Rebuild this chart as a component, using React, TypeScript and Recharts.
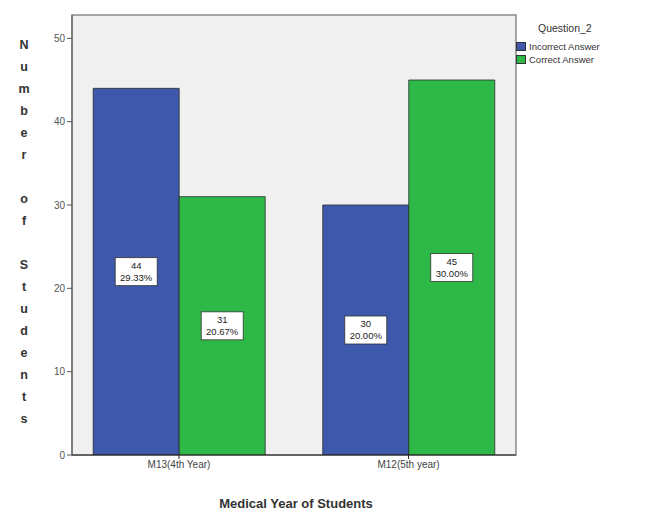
import { BarChart, Bar, XAxis, YAxis, CartesianGrid, ReferenceArea, LabelList, Legend, Label } from "recharts";

// categories along the x axis
const years = ["M13(4th Year)", "M12(5th year)"];
// counts per answer type, one entry per year
const incorrect = [44, 30];
const correct = [31, 45];
const yTicks = [0, 10, 20, 30, 40, 50];

const seriesNames = { incorrect: "Incorrect Answer", correct: "Correct Answer" };
const BLUE = "#3E58AC";
const GREEN = "#2EB848";

const total = [...incorrect, ...correct].reduce((a, b) => a + b, 0);

// numeric x axis so the groups can sit off-centre like the SPSS layout
const data = years.map((y, i) => ({ idx: i, year: y, incorrect: incorrect[i], correct: correct[i] }));

const X_DOMAIN: [number, number] = [-0.466, 1.468];
const Y_DOMAIN: [number, number] = [0, 52.8];
const FONT = "'Liberation Sans', Arial, sans-serif";

const ValueBox = (props: any) => {
  const { x, y, width, height, value } = props;
  const cx = x + width / 2;
  const cy = y + height / 2;
  const pct = ((value / total) * 100).toFixed(2) + "%";
  return (
    <g>
      <rect x={cx - 21} y={cy - 14} width={42} height={28} fill="#fff" stroke="#333" strokeWidth={0.8} />
      <text x={cx} y={cy - 3} textAnchor="middle" fontSize={9.5} fill="#222" fontFamily={FONT}>{value}</text>
      <text x={cx} y={cy + 9} textAnchor="middle" fontSize={9.5} fill="#222" fontFamily={FONT}>{pct}</text>
    </g>
  );
};

const StackedTitle = (props: any) => {
  const letters = "Number of Students".split("");
  return (
    <g>
      {letters.map((ch, i) =>
        ch === " " ? null : (
          <text key={i} x={24} y={49 + i * 22} textAnchor="middle" fontSize={12.5} fontWeight="bold" fill="#333" fontFamily={FONT}>
            {ch}
          </text>
        )
      )}
    </g>
  );
};

const BottomTitle = (props: any) => (
  <text x={296} y={508} textAnchor="middle" fontSize={13} fontWeight="bold" fill="#333" fontFamily={FONT}>
    Medical Year of Students
  </text>
);

const LegendBox = () => (
  <div style={{ fontFamily: FONT, color: "#333" }}>
    <div style={{ fontSize: 10.5, marginLeft: 22, marginBottom: 6 }}>Question_2</div>
    {[
      { name: seriesNames.incorrect, color: BLUE },
      { name: seriesNames.correct, color: GREEN },
    ].map((it) => (
      <div key={it.name} style={{ display: "flex", alignItems: "center", height: 13 }}>
        <span style={{ width: 10, height: 9, background: it.color, border: "1px solid #333", boxSizing: "border-box", marginRight: 3 }} />
        <span style={{ fontSize: 9.5 }}>{it.name}</span>
      </div>
    ))}
  </div>
);

export default function App() {
  return (
    <div style={{ position: "absolute", left: 0, top: 0, width: 647, height: 510, background: "#fff" }}>
      <BarChart width={647} height={510} data={data} margin={{ top: 15, right: 131, bottom: 25, left: 40 }} barGap={0}>
        <CartesianGrid horizontal={false} vertical={false} fill="#f0f0f0" />
        <ReferenceArea x1={X_DOMAIN[0]} x2={X_DOMAIN[1]} y1={Y_DOMAIN[0]} y2={Y_DOMAIN[1]} fill="none" stroke="#8a8a8a" strokeWidth={1.5} />
        <XAxis
          dataKey="idx"
          type="number"
          domain={X_DOMAIN}
          ticks={[0, 1]}
          allowDataOverflow
          tickFormatter={(v: number) => years[v]}
          tick={{ fontSize: 10, fill: "#444", fontFamily: FONT }}
          tickSize={4}
          tickLine={{ stroke: "#222" }}
          axisLine={{ stroke: "#222" }}
          height={30}
        >
          <Label content={<BottomTitle />} />
        </XAxis>
        <YAxis
          domain={Y_DOMAIN}
          ticks={yTicks}
          allowDataOverflow
          width={32}
          tick={{ fontSize: 10, fill: "#555", fontFamily: FONT }}
          tickSize={5}
          tickLine={{ stroke: "#555" }}
          axisLine={{ stroke: "#555" }}
        >
          <Label content={<StackedTitle />} />
        </YAxis>
        <Legend
          layout="horizontal"
          verticalAlign="middle"
          align="center"
          content={<LegendBox />}
          wrapperStyle={{ left: 516, top: 22, width: 130, height: 50 }}
        />
        <Bar dataKey="incorrect" name={seriesNames.incorrect} fill={BLUE} stroke="#2b2b2b" strokeWidth={0.8} barSize={86} isAnimationActive={false}>
          <LabelList dataKey="incorrect" content={<ValueBox />} />
        </Bar>
        <Bar dataKey="correct" name={seriesNames.correct} fill={GREEN} stroke="#2b2b2b" strokeWidth={0.8} barSize={86} isAnimationActive={false}>
          <LabelList dataKey="correct" content={<ValueBox />} />
        </Bar>
      </BarChart>
    </div>
  );
}
